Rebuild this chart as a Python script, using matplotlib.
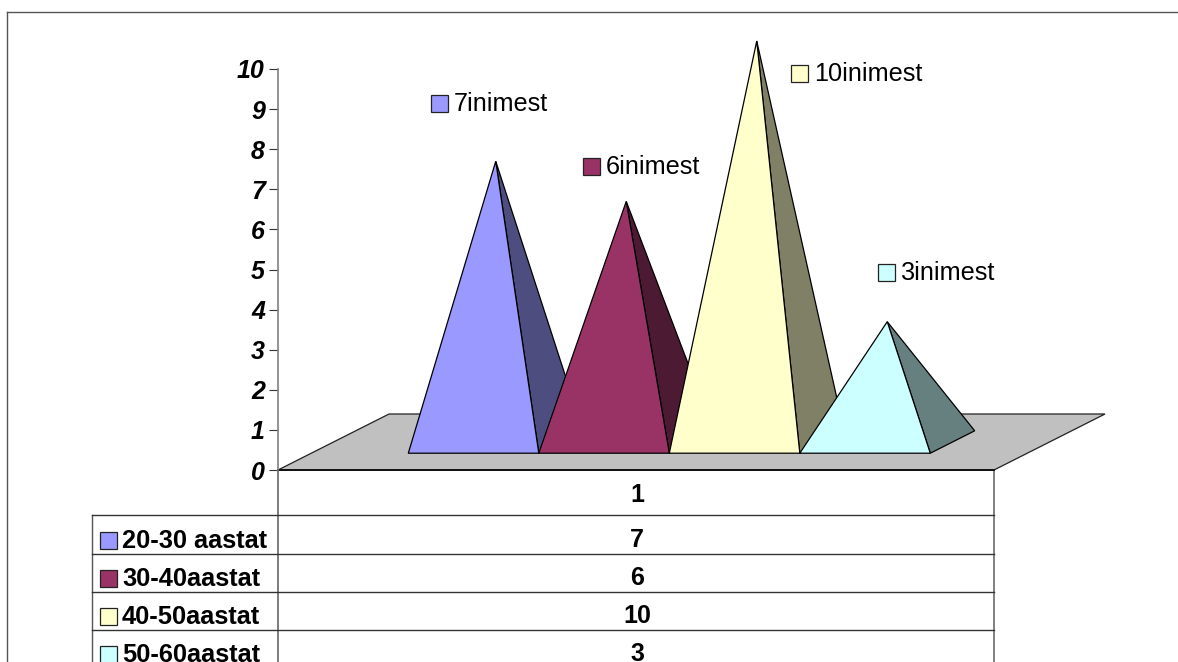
import matplotlib
matplotlib.use('Agg')
import matplotlib.pyplot as plt
from matplotlib.patches import Polygon, Rectangle

# Data
categories = ['1']
series_names = ['20-30 aastat', '30-40aastat', '40-50aastat', '50-60aastat']
series_values = [7, 6, 10, 3]
point_labels = ['7inimest', '6inimest', '10inimest', '3inimest']
y_ticks = [0, 1, 2, 3, 4, 5, 6, 7, 8, 9, 10]

front_colors = ['#9999FF', '#993366', '#FFFFCC', '#CCFFFF']
side_colors = ['#4D4D80', '#4D1A33', '#808066', '#668080']

W, H = 1178, 662
plt.rcParams['font.family'] = ['Liberation Sans', 'DejaVu Sans']

fig = plt.figure(figsize=(W / 100, H / 100), dpi=100)

# overlay in pixel coords for the frame, the data table and the labels
pix = fig.add_axes([0, 0, 1, 1])
pix.set_xlim(0, W)
pix.set_ylim(H, 0)
pix.axis('off')

# plot area
left, right, top, bottom = 278, 994, 69, 470
ax = fig.add_axes([left / W, 1 - bottom / H, (right - left) / W, (bottom - top) / H])
ax.patch.set_alpha(0)
ax.set_xlim(0, 1)
ax.set_ylim(0, 10)
for s in ['top', 'right', 'bottom']:
    ax.spines[s].set_visible(False)
ax.spines['left'].set_color('#808080')
ax.spines['left'].set_linewidth(1.2)
ax.set_xticks([])
ax.set_yticks(y_ticks)
ax.tick_params(axis='y', length=6.5, width=0.8, color='#333333', pad=3)
for t in ax.get_yticklabels():
    t.set_fontsize(18)
    t.set_fontweight('bold')
    t.set_fontstyle('italic')

# oblique depth of the floor
depth_x = 111 / (right - left)
depth_y = 56 / ((bottom - top) / 10)


def proj(x, d, v):
    return (x + d * depth_x, v + d * depth_y)


floor = [proj(0, 0, 0), proj(1, 0, 0), proj(1, 1, 0), proj(0, 1, 0)]
ax.add_patch(Polygon(floor, closed=True, fc='#C0C0C0', ec='#222222', lw=0.9, clip_on=False, zorder=1))
ax.plot([0, 1], [0, 0], color='#111111', lw=1.4, clip_on=False, zorder=1.5)

# Pyramids, left to right so each one covers the side of the previous
n = len(series_values)
gap = 97 / (right - left)
bar_w = (1 - 2 * gap) / n
d0, d1 = 0.3, 0.7
for i, v in enumerate(series_values):
    x0 = gap + i * bar_w
    x1 = x0 + bar_w
    apex = proj((x0 + x1) / 2, (d0 + d1) / 2, v)
    side = [proj(x1, d0, 0), proj(x1, d1, 0), apex]
    front = [proj(x0, d0, 0), proj(x1, d0, 0), apex]
    z = 2 + i
    ax.add_patch(Polygon(side, closed=True, fc=side_colors[i], ec='black', lw=0.9, clip_on=False, zorder=z))
    ax.add_patch(Polygon(front, closed=True, fc=front_colors[i], ec='black', lw=0.9, clip_on=False, zorder=z + 0.5))

# Data table
table_left = 92
row_lines = [515, 553.5, 592, 630]
row_text = [540, 578, 616, 654]
pix.plot([left, left], [bottom, H], color='#666666', lw=1.2)
pix.plot([right, right], [bottom, H], color='#808080', lw=1.4)
pix.plot([table_left, table_left], [515, H], color='#555555', lw=1)
for y in row_lines:
    pix.plot([table_left, right], [y, y], color='#333333', lw=1)

pix.text((left + right) / 2 + 1, 495, categories[0], ha='center', va='center', fontsize=18, fontweight='bold')
for i, name in enumerate(series_names):
    y = row_text[i]
    pix.add_patch(Rectangle((99.5, y - 8.5), 17, 17, fc=front_colors[i], ec='#222222', lw=0.9))
    pix.text(122, y + 0.5, name, ha='left', va='center', fontsize=18.3, fontweight='bold')
    pix.text((left + right) / 2 + 1, y, str(series_values[i]), ha='center', va='center', fontsize=18, fontweight='bold')

# labels next to the pyramids
label_pos = [(431, 103), (583, 166), (791, 73), (878, 272)]
for (x, y), txt, col in zip(label_pos, point_labels, front_colors):
    pix.add_patch(Rectangle((x, y - 8.5), 17, 17, fc=col, ec='#222222', lw=0.9))
    pix.text(x + 23, y + 1, txt, ha='left', va='center', fontsize=18.2)

# chart frame, only top and left fit in the picture
pix.plot([7, 7], [12, H], color='#555555', lw=1)
pix.plot([7, W], [12, 12], color='#555555', lw=1)

fig.savefig('out.png', dpi=100)
